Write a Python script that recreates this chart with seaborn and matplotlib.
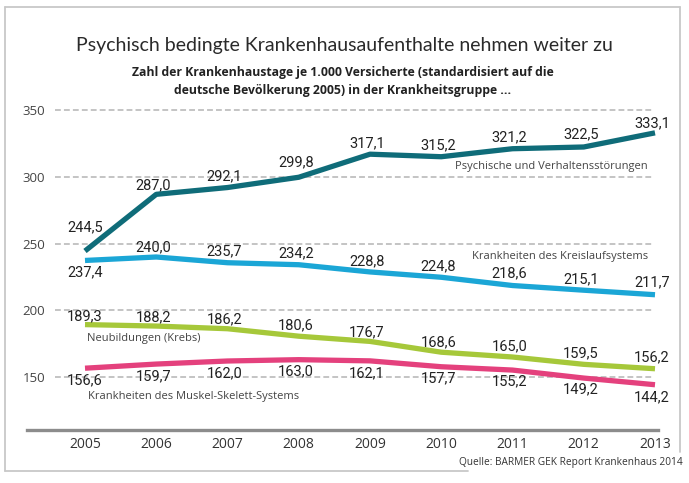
import matplotlib
matplotlib.use("Agg")
import matplotlib.pyplot as plt
import seaborn as sns
import pandas as pd
from matplotlib.lines import Line2D
from matplotlib import font_manager as fm

# ---------------- data ----------------
years = [2005, 2006, 2007, 2008, 2009, 2010, 2011, 2012, 2013]
psych = [244.5, 287.0, 292.1, 299.8, 317.1, 315.2, 321.2, 322.5, 333.1]
kreislauf = [237.4, 240.0, 235.7, 234.2, 228.8, 224.8, 218.6, 215.1, 211.7]
krebs = [189.3, 188.2, 186.2, 180.6, 176.7, 168.6, 165.0, 159.5, 156.2]
muskel = [156.6, 159.7, 162.0, 163.0, 162.1, 157.7, 155.2, 149.2, 144.2]
series_names = ["Psychische und Verhaltensstörungen",
                "Krankheiten des Kreislaufsystems",
                "Neubildungen (Krebs)",
                "Krankheiten des Muskel-Skelett-Systems"]
y_ticks = [150, 200, 250, 300, 350]
title = "Psychisch bedingte Krankenhausaufenthalte nehmen weiter zu"
subtitle = ("Zahl der Krankenhaustage je 1.000 Versicherte (standardisiert auf die\n"
            "deutsche Bevölkerung 2005) in der Krankheitsgruppe ...")
source = "Quelle: BARMER GEK Report Krankenhaus 2014"

# ---------------- styles ----------------
colors = ["#0f6c79", "#1ba6d6", "#a6c83a", "#e4417d"]
# vertical label offsets in pixels (positive = above the line)
label_dy = [
    [24, 9, 11.5, 15, 11, 11.6, 11.6, 13, 10],
    [-11.5, 10, 11.7, 11.7, 11, 11, 12.5, 11, 12],
    [8.6, 9, 9.7, 11, 9.3, 10, 11, 11, 11.7],
    [-12, -12, -12, -12, -12, -12, -11, -11, -12.5],
]

W, H = 689, 483
sns.set_theme(style="white")

avail = {f.name for f in fm.fontManager.ttflist}
def pick(*names):
    for n in names:
        if n in avail:
            return n
    return "DejaVu Sans"

f_title = pick("Lato", "Open Sans", "DejaVu Sans")
f_num = pick("Roboto", "Open Sans", "DejaVu Sans")
f_lab = pick("Open Sans", "Noto Sans", "DejaVu Sans")
plt.rcParams["font.family"] = [f_lab, "DejaVu Sans"]

fig = plt.figure(figsize=(W / 100, H / 100), dpi=100)
fig.patch.set_facecolor("white")

# axes: x from px 27 to 658, y from px 105 to 430
ax = fig.add_axes([27 / W, 1 - 430 / H, (658 - 27) / W, (430 - 105) / H])
ax.set_facecolor("white")

frames = []
for name, vals in zip(series_names, [psych, kreislauf, krebs, muskel]):
    frames.append(pd.DataFrame({"Jahr": years, "Wert": vals, "Gruppe": name}))
df = pd.concat(frames, ignore_index=True)

px_per_year = 71.25
x0 = 2005 - (85 - 27) / px_per_year
x1 = 2013 + (658 - 655) / px_per_year
px_per_unit = 66.67 / 50
y0 = 150 - (430 - 377) / px_per_unit
y1 = 150 + (377 - 105) / px_per_unit

# grid
gx0 = (55 - 27) / (658 - 27)
gx1 = (652 - 27) / (658 - 27)
for yt in y_ticks:
    ax.axhline(yt, xmin=gx0, xmax=gx1, color="#c4c4c4", lw=1.4,
               ls=(0, (3, 1.6)), zorder=1)

sns.lineplot(data=df, x="Jahr", y="Wert", hue="Gruppe",
             palette=dict(zip(series_names, colors)), linewidth=3.8,
             legend=False, ax=ax, zorder=3,
             solid_joinstyle="round", solid_capstyle="butt")

ax.set_xlim(x0, x1)
ax.set_ylim(y0, y1)

for vals, dys in zip([psych, kreislauf, krebs, muskel], label_dy):
    for i, (yr, v) in enumerate(zip(years, vals)):
        dx = 0 if i == 0 else -3
        ax.annotate(f"{v:.1f}".replace(".", ","), (yr, v),
                    xytext=(dx, dys[i]), textcoords="offset pixels",
                    ha="center", va="center", fontsize=10.5,
                    family=[f_num, "DejaVu Sans"], color="#222222", zorder=4)

# series names
name_pos = [
    (648, 166, "right"),
    (648, 256, "right"),
    (87, 339, "left"),
    (88, 397, "left"),
]
for nm, (px, py, ha) in zip(series_names, name_pos):
    fig.text(px / W, 1 - py / H, nm, ha=ha, va="center", fontsize=8.0,
             color="#444444", family=[f_lab, "DejaVu Sans"])

# axes styling
for s in ["top", "right", "left"]:
    ax.spines[s].set_visible(False)
ax.spines["bottom"].set_color("#8c8c8c")
ax.spines["bottom"].set_linewidth(2.4)
ax.set_xticks(years)
ax.set_xticklabels([str(y) for y in years])
ax.set_yticks(y_ticks)
ax.set_yticklabels([str(y) for y in y_ticks])
ax.tick_params(axis="x", length=0, pad=5, labelsize=10, labelcolor="#333333")
ax.tick_params(axis="y", length=0, pad=-13, labelsize=9.5, labelcolor="#444444")
for lab in ax.get_yticklabels():
    lab.set_horizontalalignment("right")
    lab.set_family([f_lab, "DejaVu Sans"])
for lab in ax.get_xticklabels():
    lab.set_family([f_lab, "DejaVu Sans"])
ax.set_xlabel("")
ax.set_ylabel("")
ax.grid(False)

# titles
fig.text(344 / W, 1 - 46 / H, title, ha="center", va="center", fontsize=14.0,
         color="#2a2a2a", family=[f_title, "DejaVu Sans"], fontweight="normal")
fig.text(343 / W, 1 - 81.5 / H, subtitle, ha="center", va="center",
         fontsize=8.8, fontweight="bold", color="#222222", linespacing=1.45,
         family=[f_lab, "DejaVu Sans"])
fig.text(683 / W, 1 - 463 / H, source, ha="right", va="center", fontsize=7.3,
         color="#333333", family=[f_lab, "DejaVu Sans"])

# frame
bc = "#c8c8c8"
def fl(xa, ya, xb, yb):
    fig.add_artist(Line2D([xa / W, xb / W], [1 - ya / H, 1 - yb / H],
                          color=bc, lw=1.3, transform=fig.transFigure))
fl(5, 7, 680, 7)
fl(5, 7, 5, 471)
fl(5, 471, 468, 471)
fl(680, 7, 680, 452)

fig.savefig("out.png", dpi=100, facecolor="white")
